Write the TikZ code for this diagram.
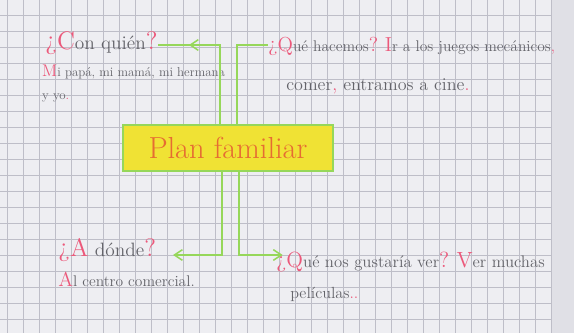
\documentclass[tikz,border=0pt]{standalone}
\usepackage{xcolor}
\usepackage{tikz}
\usetikzlibrary{arrows.meta,positioning,decorations.markings}
\definecolor{paper}{RGB}{238,238,242}
\definecolor{paperedge}{RGB}{224,224,230}
\definecolor{gridgray}{RGB}{190,190,200}
\definecolor{pencil}{RGB}{100,100,106}
\definecolor{markpink}{RGB}{236,88,122}
\definecolor{leafgreen}{RGB}{150,215,90}
\definecolor{markyellow}{RGB}{240,226,52}
\definecolor{markorange}{RGB}{230,108,50}
\newcommand{\rd}[1]{\textcolor{markpink}{#1}}
\newcommand{\Rd}[1]{\textcolor{markpink}{\Large #1}}

\begin{document}
\begin{tikzpicture}[x=0.3mm, y=-0.3mm,
    note/.style={anchor=west, inner sep=0pt, text=pencil, font=\fontsize{11}{13}\selectfont, scale=#1},
    note/.default=1,
    planbox/.style={draw=leafgreen, line width=1.6pt, fill=markyellow, minimum width=63mm, minimum height=14mm, text=markorange, font=\fontsize{26}{28}\selectfont},
    link/.style={draw=leafgreen, line width=1.3pt},
    tip/.style={-{Straight Barb[length=2.4mm, width=3.2mm]}},
    midtip/.style={postaction={decorate}, decoration={markings, mark=at position 0.78 with {\arrow{Straight Barb[length=2.4mm, width=3.2mm]}}}}
]
% paper and grid
\useasboundingbox (0,0) rectangle (574,333);
\fill[paperedge] (0,0) rectangle (574,333);
\fill[paper] (0,0) rectangle (552,333);
\foreach \gx in {7,23,...,551} \draw[gridgray, line width=0.4pt] (\gx,0) -- (\gx,333);
\foreach \gy in {15,31,...,333} \draw[gridgray, line width=0.4pt] (0,\gy) -- (552,\gy);

% centre
\node[planbox] (plan) at (228,148) {Plan familiar};

% texts
\node[note=1.5] (quienq) at (45,43) {\Rd{¿C}on quién\Rd{?}};
\node[note] (quiena) at (42,72) {\Rd{M}i papá, mi mamá, mi hermana};
\node[note] (quienb) at (42,98) {y yo\rd{.}};

\node[note=1.2] (hacerq) at (268,46) {\Rd{¿Q}ué hacemos\Rd{?} \Rd{I}r a los juegos mecánicos\rd{,}};
\node[note=1.4] (hacera) at (286,86) {comer\rd{,} entramos a cine\rd{.}};

\node[note=1.5] (dondeq) at (58,250) {\Rd{¿A} dónde\Rd{?}};
\node[note=1.2] (dondea) at (58,279) {\Rd{A}l centro comercial.};

\node[note=1.3] (verq) at (276,262) {\Rd{¿Q}ué nos gustaría ver\Rd{?} \Rd{V}er muchas};
\node[note=1.25] (vera) at (290,294) {películas\rd{..}};

% connectors
\coordinate (tl) at (220,45);
\coordinate (tr) at (237,45);
\coordinate (bl) at (222,255);
\coordinate (br) at (239,255);
\draw[link, midtip] (plan.north -| tl) -- (tl) -- (quienq.east |- tl);
\draw[link] (plan.north -| tr) -- (tr) -- (hacerq.west |- tr);
\draw[link, tip] (plan.south -| bl) -- (bl) -- ([xshift=5mm]dondeq.east |- bl);
\draw[link, tip] (plan.south -| br) -- (br) -- ([xshift=2mm]verq.west |- br);
\end{tikzpicture}
\end{document}
